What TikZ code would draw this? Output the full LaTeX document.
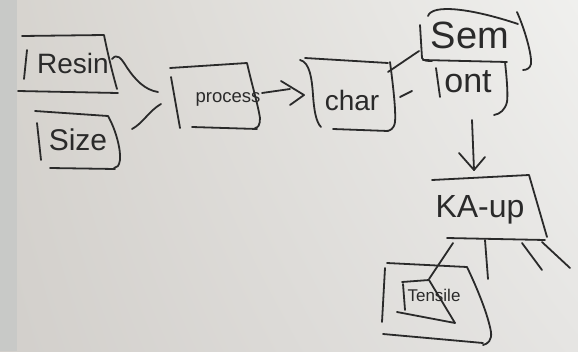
\documentclass[tikz,border=0pt]{standalone}
\usepackage{fontspec}
\setmainfont{Liberation Sans}
\usetikzlibrary{arrows.meta,shadings}
\definecolor{ink}{HTML}{2A2A2A}
\definecolor{paperUL}{HTML}{D6D3CE}
\definecolor{paperUR}{HTML}{F0F0EE}
\definecolor{paperLL}{HTML}{D2CFCB}
\definecolor{paperLR}{HTML}{E6E5E3}
\definecolor{margin}{HTML}{C8C9C7}
\newcommand{\fs}[1]{\fontsize{#1}{#1}\selectfont}
\begin{document}
\begin{tikzpicture}[x=1pt,y=-1pt,
  pen/.style={draw=ink,line width=1.8pt,line cap=round,line join=round},
  lbl/.style={text=ink,inner sep=0pt,anchor=center},
  conn/.style={pen}]

% paper and margin strip
\shade[upper left=paperUL,upper right=paperUR,lower left=paperLL,lower right=paperLR]
  (0,0) rectangle (578,351);
\fill[margin] (0,0) rectangle (17,351);
\useasboundingbox (0,0) rectangle (578,351);

% labels
\node[lbl,font=\fs{28}] (resin)   at (73,63)  {Resin};
\node[lbl,font=\fs{30}] (size)    at (78,140) {Size};
\node[lbl,font=\fs{18.5}] (process) at (228,99) {process};
\node[lbl,font=\fs{28}] (char)    at (352,100) {char};
\node[lbl,font=\fs{38}] (sem)     at (470,35) {Sem};
\node[lbl,font=\fs{34}] (ont)     at (468,82) {ont};
\node[lbl,font=\fs{32}] (kaup)    at (480,210) {KA-up};
\node[lbl,font=\fs{17}] (tensile) at (434,295) {Tensile};

% Resin box
\draw[pen] (22,36) -- (104,35) .. controls (108,55) and (113,75) .. (117,89);
\draw[pen] (18,91) -- (118,93);
\draw[pen] (27,50) -- (24,79);

% Size box
\draw[pen] (35,111) -- (108,116) .. controls (116,130) and (121,150) .. (120,160)
  .. controls (119,166) and (117,168) .. (114,168);
\draw[pen] (50,168) -- (115,169);
\draw[pen] (37,123) -- (41,160);

% process box
\draw[pen] (170,68) -- (247,63) .. controls (252,85) and (258,105) .. (260,118)
  .. controls (260,125) and (258,128) .. (255,128);
\draw[pen] (192,127) -- (257,129);
\draw[pen] (171,77) -- (180,128);

% char box
\draw[pen] (305,58) -- (388,63);
\draw[pen] (300,60) .. controls (310,62) and (312,80) .. (313,95)
  .. controls (314,110) and (316,122) .. (321,127);
\draw[pen] (390,62) .. controls (393,85) and (396,110) .. (395,122)
  .. controls (394,129) and (390,131) .. (386,131);
\draw[pen] (333,129) -- (388,131);

% Sem box
\draw[pen] (428,16) .. controls (432,4) and (470,8) .. (518,24);
\draw[pen] (517,12) .. controls (525,30) and (532,55) .. (531,64)
  .. controls (530,68) and (527,70) .. (523,70);
\draw[pen] (420,25) -- (422,58) .. controls (423,61) and (428,61) .. (432,61);
\draw[pen] (423,60) -- (507,62);

% ont box
\draw[pen] (436,68) -- (440,97);
\draw[pen] (505,62) .. controls (507,80) and (508,95) .. (507,102)
  .. controls (505,110) and (500,114) .. (494,115);

% KA-up box
\draw[pen] (432,180) -- (529,175) -- (547,237);
\draw[pen] (447,238) -- (545,240);

% Tensile boxes
\draw[pen] (387,263) -- (467,267) .. controls (478,290) and (488,315) .. (491,332)
  .. controls (492,340) and (488,344) .. (483,345);
\draw[pen] (383,334) -- (483,343);
\draw[pen] (385,268) -- (382,322);
\draw[pen] (402,282) -- (429,280) -- (455,323) -- (397,312);
\draw[pen] (403,284) -- (405,310);

% connector anchors
\coordinate (resin-out)  at (112,59);
\coordinate (proc-in1)   at (158,92);
\coordinate (size-out)   at (132,129);
\coordinate (proc-in2)   at (161,104);
\coordinate (proc-out)   at (262,93);
\coordinate (char-in)    at (304,95);
\coordinate (char-out1)  at (388,72);
\coordinate (sem-in)     at (419,51);
\coordinate (char-out2)  at (400,97);
\coordinate (ont-in)     at (412,91);
\coordinate (ont-out)    at (472,120);
\coordinate (kaup-in)    at (474,170);
\coordinate (kaup-out1)  at (453,243);
\coordinate (tens-in)    at (429,279);
\coordinate (kaup-out2)  at (485,240);
\coordinate (free2)      at (488,279);
\coordinate (kaup-out3)  at (522,243);
\coordinate (free3)      at (542,270);
\coordinate (kaup-out4)  at (542,242);
\coordinate (free4)      at (570,268);

% connectors
\draw[conn] (resin-out) .. controls (117,53) and (121,58) .. (126,66)
  .. controls (135,80) and (145,90) .. (proc-in1);
\draw[conn] (size-out) .. controls (142,124) and (150,110) .. (proc-in2);
\draw[conn] (proc-out) -- (290,89);
\draw[conn] (281,81) -- (char-in) -- (290,105);
\draw[conn] (char-out1) -- (sem-in);
\draw[conn] (char-out2) -- (ont-in);
\draw[conn] (ont-out) -- (kaup-in);
\draw[conn] (459,153) -- (kaup-in) -- (485,157);
\draw[conn] (kaup-out1) -- (tens-in);
\draw[conn] (kaup-out2) -- (free2);
\draw[conn] (kaup-out3) -- (free3);
\draw[conn] (kaup-out4) -- (free4);
\end{tikzpicture}
\end{document}
